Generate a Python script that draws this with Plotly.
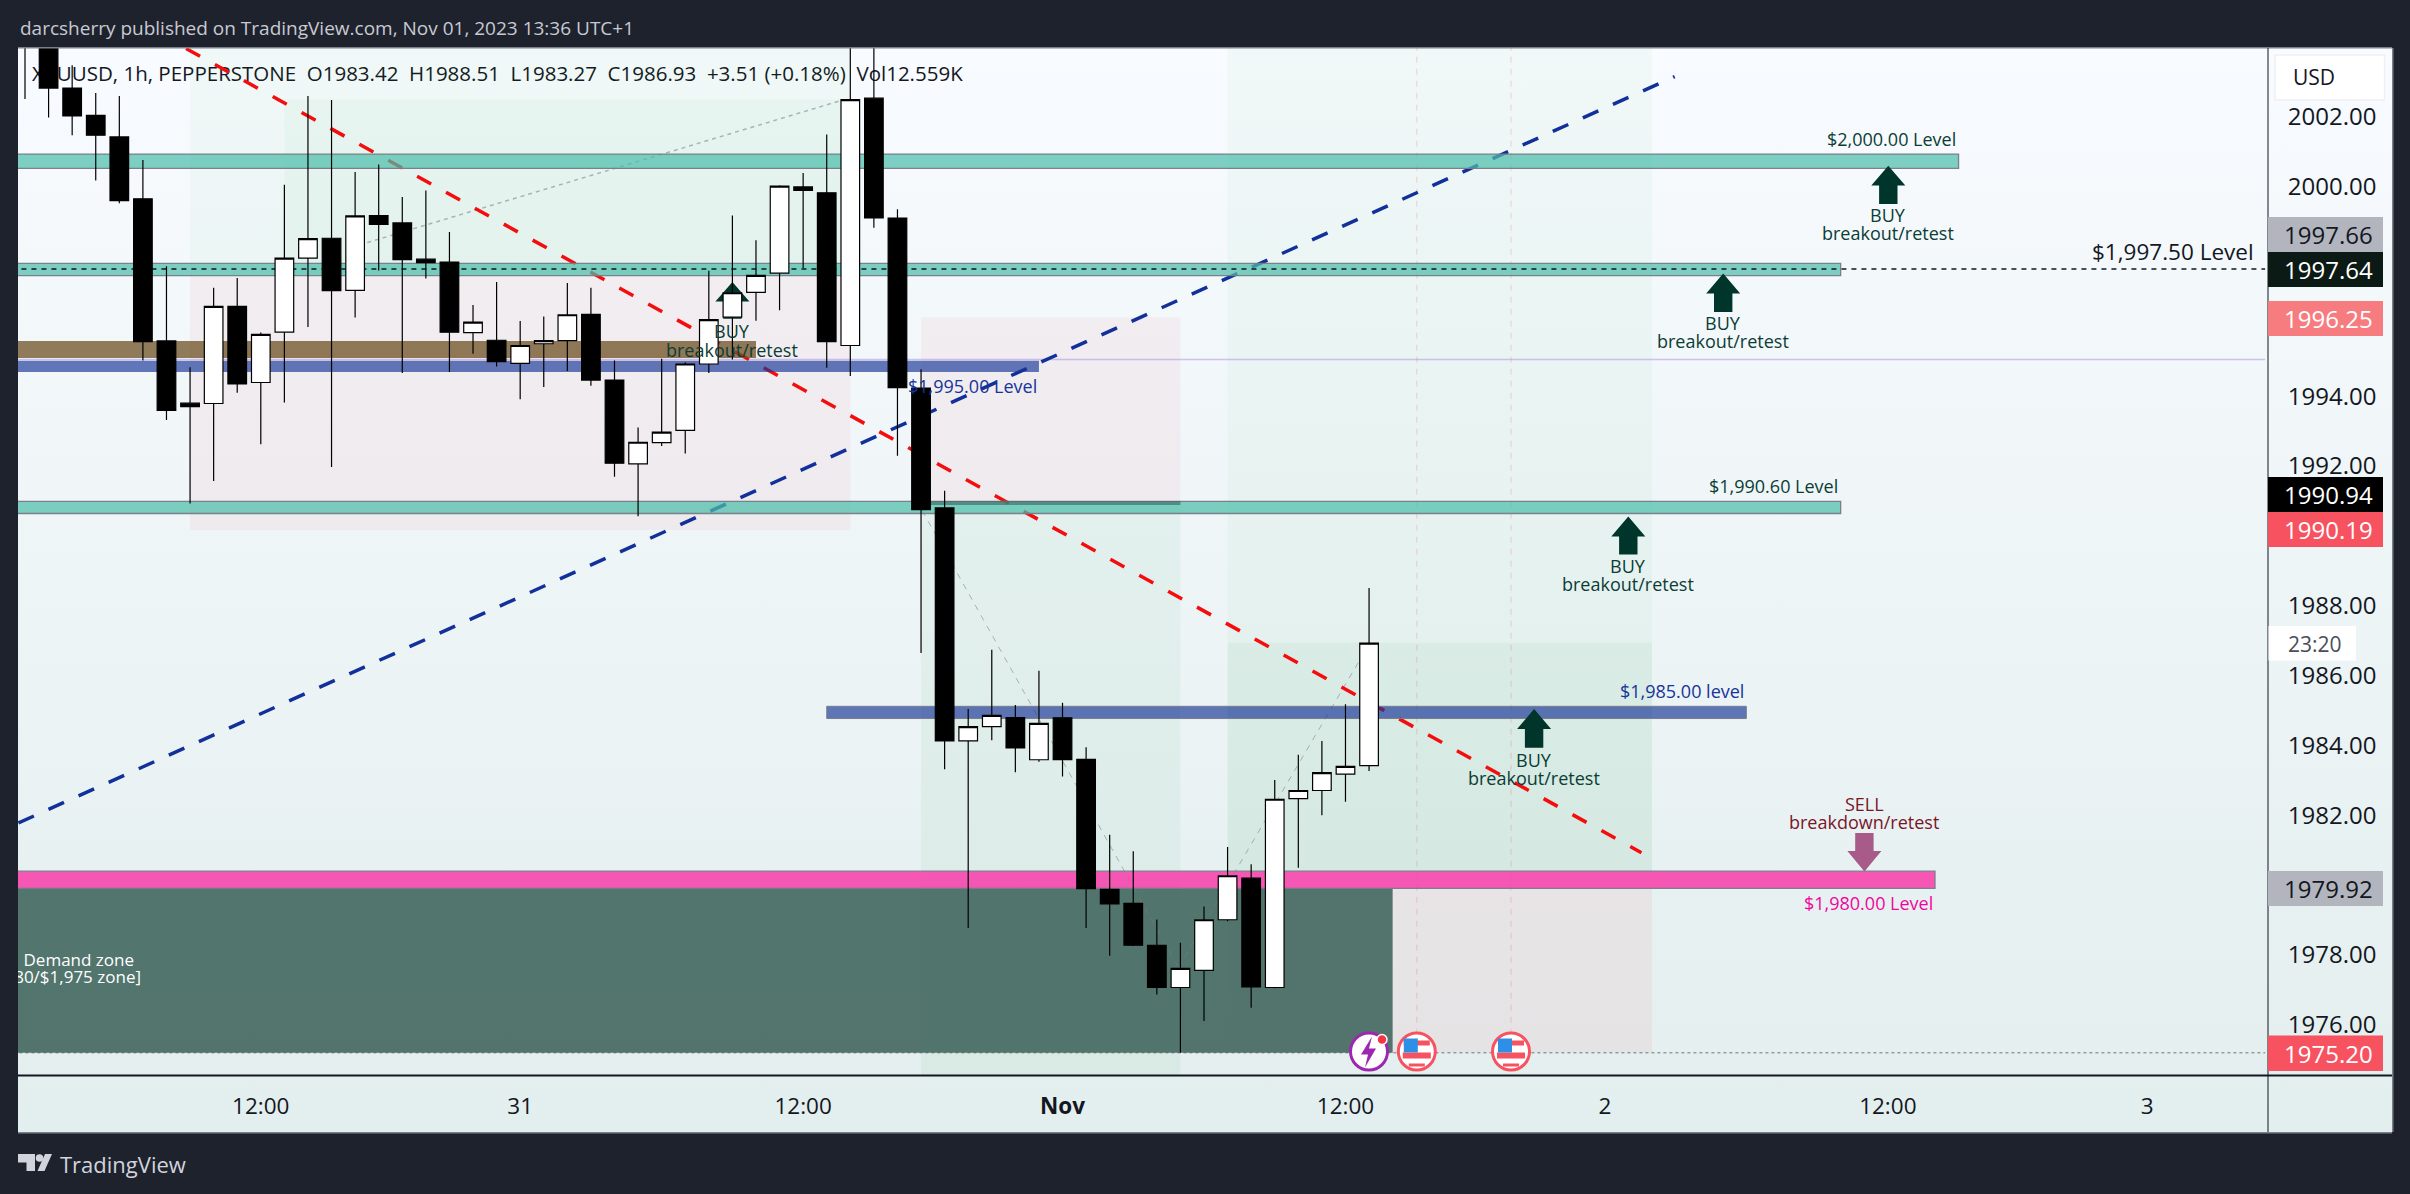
import plotly.graph_objects as go

# ---------- data ----------
opens = [2005.0,2004.4,2002.82,2002.04,2001.42,1999.65,1995.58,1993.80,1993.79,1996.57,1994.39,1995.83,1997.95,1998.52,1997.03,1999.17,1998.96,1997.92,1997.84,1995.82,
         1995.60,1994.94,1995.50,1995.59,1996.34,1994.46,1992.06,1992.67,1993.02,1994.92,1996.26,1996.97,1997.52,1999.99,1999.82,1995.45,2002.53,1999.10,1994.23,1990.80,
         1984.13,1984.54,1984.80,1983.59,1984.79,1983.60,1979.88,1979.48,1978.28,1977.07,1977.56,1979.01,1980.20,1977.07,1982.48,1982.71,1983.18,1983.42]
highs = [2005.5,2004.8,2003.47,2002.68,2002.59,2000.76,1997.72,1994.83,1997.10,1997.38,1995.82,2000.05,2002.59,2002.48,2000.42,2000.63,1999.70,1999.89,1998.70,1996.61,
         1997.27,1996.15,1996.28,1997.24,1997.10,1995.02,1993.10,1995.07,1994.97,1997.59,1999.17,1998.46,2000.04,2000.39,2001.49,2004.1,2004.2,1999.35,1994.77,1991.29,
         1985.04,1986.74,1985.16,1986.14,1985.22,1983.95,1981.44,1980.97,1979.02,1978.35,1979.39,1981.09,1980.60,1983.01,1983.73,1984.13,1985.18,1988.51]
lows = [2002.51,2001.98,2001.47,2000.17,1999.52,1995.02,1993.32,1990.93,1991.57,1994.10,1992.62,1993.82,1995.98,1991.97,1996.25,1997.60,1994.66,1997.37,1994.69,1995.21,
        1994.85,1993.91,1994.26,1994.72,1994.30,1991.69,1990.56,1992.57,1992.36,1994.66,1995.05,1996.16,1996.46,1997.67,1994.81,1994.58,1998.82,1992.29,1986.65,1983.32,
        1978.77,1984.15,1983.23,1983.53,1983.11,1978.77,1977.98,1978.26,1976.87,1975.20,1976.11,1978.97,1976.49,1977.05,1980.50,1982.00,1982.39,1983.27]
closes = [2004.2,2002.82,2002.02,2001.47,1999.60,1995.56,1993.59,1993.70,1996.57,1994.35,1995.77,1997.95,1998.51,1997.02,1999.16,1998.92,1997.91,1997.82,1995.83,1996.12,
          1994.99,1995.45,1995.59,1996.33,1994.46,1992.08,1992.68,1992.97,1994.92,1996.19,1996.96,1997.46,2000.01,1999.89,1995.56,2002.49,1999.10,1994.24,1990.75,1984.13,
          1984.54,1984.86,1983.93,1984.63,1983.59,1979.90,1979.46,1978.28,1977.07,1977.62,1979.01,1980.27,1977.09,1982.46,1982.71,1983.22,1983.40,1986.93]
bars = list(range(len(opens)))
price_ticks = [1976, 1978, 1982, 1984, 1986, 1988, 1992, 1994, 2000, 2002]
time_tick_bars = [10, 21, 33, 44, 56, 67, 79, 90]
time_tick_labels = ["12:00", "31", "12:00", "<b>Nov</b>", "12:00", "2", "12:00", "3"]
TITLE = "darcsherry published on TradingView.com, Nov 01, 2023 13:36 UTC+1"
OHLC = "XAUUSD, 1h, PEPPERSTONE\u00a0\u00a0O1983.42\u00a0\u00a0H1988.51\u00a0\u00a0L1983.27\u00a0\u00a0C1986.93\u00a0\u00a0+3.51 (+0.18%)\u00a0\u00a0Vol12.559K"

# ---------- geometry ----------
W, H = 2410, 1194
PL, PR, PT, PB = 18, 2268, 48, 1075.5    # plot area in pixels
FR, FB = 2392, 1132                      # panel outer
X0, DX = 25.0, 23.58
def bx(px): return (px - X0) / DX
def pr(py): return 2002 - (py - 116.7) / 34.93
def PX(x): return x / W
def PY(y): return 1 - y / H
FONT = "Open Sans"

shapes, ann = [], []
def rect(i0, i1, p0, p1, color, line=None, lw=1):
    shapes.append(dict(type="rect", xref="x2", yref="y2", x0=i0, x1=i1, y0=p0, y1=p1, fillcolor=color,
                       line=dict(color=line or "rgba(0,0,0,0)", width=lw if line else 0), layer="below"))
def seg(i0, p0, i1, p1, color, width, dash="solid"):
    shapes.append(dict(type="line", xref="x2", yref="y2", x0=i0, x1=i1, y0=p0, y1=p1,
                       line=dict(color=color, width=width, dash=dash), layer="below"))
def ptext(x, y, text, color, size, anchor="center", family=None):
    ann.append(dict(xref="paper", yref="paper", x=PX(x), y=PY(y), text=text, showarrow=False,
                    xanchor=anchor, yanchor="middle", font=dict(color=color, size=size, family=family or FONT)))
def ppath(points, color, layer="above"):
    d = "M" + " L".join(f"{PX(a):.5f},{PY(b):.5f}" for a, b in points) + " Z"
    shapes.append(dict(type="path", xref="paper", yref="paper", path=d, fillcolor=color,
                       line=dict(color="rgba(0,0,0,0)", width=0), layer=layer))
def pbox(x0, y0, x1, y1, color, layer="above"):
    shapes.append(dict(type="rect", xref="paper", yref="paper", x0=PX(x0), x1=PX(x1), y0=PY(y0), y1=PY(y1),
                       fillcolor=color, line=dict(width=0), layer=layer))
def arrow(cx, tip, base, end, color):
    pts = [(cx, tip), (cx + 17, base), (cx + 9.2, base), (cx + 9.2, end), (cx - 9.2, end), (cx - 9.2, base), (cx - 17, base)]
    d = "M" + " L".join(f"{bx(a):.4f},{pr(b):.4f}" for a, b in pts) + " Z"
    shapes.append(dict(type="path", xref="x2", yref="y2", path=d, fillcolor=color, line=dict(width=0), layer="below"))

GREEN_PALE = "rgba(40,160,70,0.035)"
GREEN = "rgba(40,160,70,0.055)"
PINK = "rgba(242,54,69,0.055)"

# position tools
rect(7, 35, 1997.45, 2006, GREEN_PALE)
rect(11, 35, 1997.45, 2002.49, GREEN_PALE)
rect(7, 35, 1990.17, 1997.45, PINK)
rect(38, 49, 1990.94, 1996.25, PINK)
rect(38, 49, 1974, 1990.94, GREEN)
rect(51, 69, 1980.40, 2006, GREEN_PALE)
rect(51, 69, 1980.40, 1986.94, GREEN)
rect(51, 69, 1975.2, 1979.91, "rgba(242,54,69,0.065)")
# demand zone
rect(-1, 58, 1975.2, 1979.92, "rgba(72,108,100,0.94)")
# thin lines
seg(-1, 1995.05, 95, 1995.05, "rgba(170,140,225,0.5)", 1.5)
seg(-1, 1975.2, 95, 1975.2, "rgba(80,90,90,0.8)", 1, "dot")
for vx in [1416.8, 1511]:
    seg(bx(vx), 1974, bx(vx), 2005, "rgba(242,54,69,0.22)", 1, "6px,6px")
DOT = "rgba(120,123,134,0.55)"
seg(14.19, 1998.33, 34.64, 2002.47, DOT, 1.5, "4px,4px")
seg(38.05, 1990.72, 48.92, 1977.64, DOT, 1, "6px,6px")
seg(48.92, 1977.64, 56.54, 1986.37, DOT, 1, "6px,6px")
# dashed trend lines (extend below the bands)
seg(6.83, 2003.95, 68.55, 1980.93, "#f50d0d", 3.5, "16px,17px")
seg(-0.28, 1981.78, 69.96, 2003.15, "#12309a", 3.5, "17px,16px")
# level bands
TEAL = "rgba(76,190,170,0.72)"
BLUE = "rgba(22,52,150,0.66)"
BORDER = "rgba(120,123,134,0.95)"
rect(-1, 82, 2000.52, 2000.93, TEAL, BORDER, 1.3)
rect(-1, 77, 1997.45, 1997.80, TEAL, BORDER, 1.3)
rect(-1, 77, 1990.64, 1990.99, TEAL, BORDER, 1.3)
rect(-1, 31, 1995.09, 1995.58, "rgba(110,80,35,0.75)")
rect(-1, 43, 1994.69, 1995.01, BLUE)
rect(38.42, 49, 1990.88, 1990.99, "rgba(50,90,85,0.55)")
rect(34, 73, 1984.77, 1985.12, BLUE, BORDER, 1)
rect(-1, 81, 1979.91, 1980.40, "rgba(248,60,170,0.86)", BORDER, 1.3)
seg(-1, 1997.64, 95, 1997.64, "#131722", 1.5, "5px,5px")
# arrows
DG = "#00352b"
arrow(1888.3, 165.7, 185.6, 204, DG)
arrow(1723.2, 273.6, 293.5, 311.9, DG)
arrow(1628.3, 516.6, 536.6, 554.5, DG)
arrow(1534.1, 709.1, 729, 747.7, DG)
arrow(732.4, 282, 301.6, 318.8, DG)
sx = 1864.4
shapes.append(dict(type="path", xref="x2", yref="y2",
    path="M" + " L".join(f"{bx(a):.4f},{pr(b):.4f}" for a, b in
        [(sx, 871.6), (sx + 17, 851.1), (sx + 9.2, 851.1), (sx + 9.2, 833), (sx - 9.2, 833), (sx - 9.2, 851.1), (sx - 17, 851.1)]) + " Z",
    fillcolor="#a85a88", line=dict(width=0), layer="below"))

# level labels
LS = 18
LG = "#0b3d35"
ptext(1957.8, 138.5, "$2,000.00 Level", LG, LS, "right")
ptext(1840.5, 486, "$1,990.60 Level", LG, LS, "right")
ptext(2255.6, 251.4, "$1,997.50 Level", "#131722", 22.5, "right")
ptext(1746.3, 691, "$1,985.00 level", "#16349a", LS, "right")
ptext(1039, 385.8, "$1,995.00 Level", "#16349a", LS, "right")
ptext(1934.6, 902.6, "$1,980.00 Level", "#f005a0", LS, "right")
for cx, y1, y2 in [(1888.3, 214.7, 233), (1723.2, 322.6, 341.4), (1628.3, 565.6, 584.4), (1534.1, 759.8, 778), (732.4, 331.4, 350)]:
    ptext(cx, y1, "BUY", LG, LS)
    ptext(cx, y2, "breakout/retest", LG, LS)
ptext(sx, 803.8, "SELL", "#7a1528", LS)
ptext(sx, 822, "breakdown/retest", "#7a1528", LS)

# frame and title
FRAME = "#7d808a"
pbox(PL, PT - 1, FR, PT + 0.5, FRAME)
pbox(PL, FB, FR, FB + 1.5, FRAME)
pbox(FR, PT, FR + 1.5, FB, FRAME)
pbox(PL, PB - 1, FR, PB + 1, "#131722")
pbox(PR - 0.5, PT, PR + 0.5, FB, "#131722")
ptext(18, 28, TITLE, "#c8cad2", 19, "left")

# right axis tags
TR = 2383
def tag(y0, y1, color, text, tc):
    pbox(PR, y0, TR, y1, color)
    ptext(2328.5, (y0 + y1) / 2, text, tc, 24)
tag(217, 252, "#b2b5be", "1997.66", "#131722")
tag(252, 287, "#0b1a14", "1997.64", "#ffffff")
tag(301, 336, "#f77c80", "1996.25", "#ffffff")
tag(477, 512, "#000000", "1990.94", "#ffffff")
tag(512, 547, "#f7525f", "1990.19", "#ffffff")
tag(871, 906, "#b2b5be", "1979.92", "#131722")
tag(1035.5, 1071, "#f7525f", "1975.20", "#ffffff")
pbox(PR + 0.5, 626, 2356, 660.5, "#ffffff")
ptext(2315, 643.5, "23:20", "#4a4e5a", 21)
shapes.append(dict(type="rect", xref="paper", yref="paper", x0=PX(2275), x1=PX(2384.5), y0=PY(55), y1=PY(100),
                   fillcolor="#ffffff", line=dict(color="#eef0f3", width=1.5), layer="above"))
ptext(2291, 77, "USD", "#131722", 21, "left")

# events
ECY = 1051.5
def circle(cx, cy, r, fill, line, lw):
    shapes.append(dict(type="circle", xref="paper", yref="paper", x0=PX(cx - r), x1=PX(cx + r), y0=PY(cy - r), y1=PY(cy + r),
                       fillcolor=fill, line=dict(color=line, width=lw), layer="above"))
for cx in [1416.8, 1511]:
    circle(cx, ECY, 18.5, "#ffffff", "#f7525f", 3)
    pbox(cx - 13, ECY - 11, cx + 13, ECY - 6, "#f7525f")
    pbox(cx - 14, ECY + 1, cx + 14, ECY + 7, "#f7525f")
    pbox(cx - 8, ECY + 12, cx + 8, ECY + 15, "#f7525f")
    pbox(cx - 13, ECY - 13, cx + 1, ECY + 1, "#2d8fe6")
circle(1369, ECY, 18.5, "#ffffff", "#9c27b0", 3)
ppath([(1372, ECY - 15), (1361, ECY + 3), (1368, ECY + 3), (1365, ECY + 16), (1376, ECY - 3), (1369, ECY - 3)], "#9c27b0")
circle(1382, ECY - 12, 5, "#f23645", "#ffffff", 1.5)

# logo
LOGO = "#d1d4dc"
ppath([(18, 1154), (35, 1154), (35, 1171), (26.5, 1171), (26.5, 1162.5), (18, 1162.5)], LOGO, "above")
circle(39.5, 1158, 3.8, LOGO, LOGO, 0)
ppath([(45, 1154), (52, 1154), (44.5, 1171), (37.5, 1171)], LOGO)
ptext(58, 1164.4, "TradingView", LOGO, 22, "left")

fig = go.Figure()
# backdrop on a pixel-valued panel axis
fig.add_trace(go.Scatter(x=[PL, FR, FR, PL, PL], y=[PT, PT, FB, FB, PT], mode="lines", fill="toself", line=dict(width=0),
                         fillgradient=dict(type="vertical", colorscale=[[0, "#e3eeee"], [1, "#f8fbff"]]),
                         hoverinfo="skip", showlegend=False, xaxis="x", yaxis="y"))
fig.add_trace(go.Scatter(x=[32], y=[76], mode="text", text=[OHLC], textposition="middle right",
                         textfont=dict(color="#131722", size=20.5, family=FONT),
                         hoverinfo="skip", showlegend=False, xaxis="x", yaxis="y"))
# market
fig.add_trace(go.Candlestick(x=bars, open=opens, high=highs, low=lows, close=closes, whiskerwidth=0,
                             increasing=dict(fillcolor="#ffffff", line=dict(color="#000000", width=1.2)),
                             decreasing=dict(fillcolor="#000000", line=dict(color="#000000", width=1.2)),
                             hoverinfo="skip", showlegend=False, xaxis="x2", yaxis="y2"))
fig.add_trace(go.Scatter(x=[bx(134), bx(141)], y=[pr(961.4), pr(979.2)], mode="text",
                         text=["Demand zone", "[$1,980/$1,975 zone]"], textposition="middle left", cliponaxis=True,
                         textfont=dict(color="#ffffff", size=17, family=FONT),
                         hoverinfo="skip", showlegend=False, xaxis="x2", yaxis="y2"))

fig.update_layout(
    width=W, height=H, margin=dict(l=0, r=0, t=0, b=0), autosize=False,
    paper_bgcolor="#1e222d", plot_bgcolor="rgba(0,0,0,0)", boxgap=0.21, boxgroupgap=0,
    shapes=shapes, annotations=ann, font=dict(family=FONT), showlegend=False,
    xaxis=dict(domain=[PX(PL), PX(FR)], range=[PL, FR], visible=False, fixedrange=True),
    yaxis=dict(domain=[PY(FB), PY(PT)], range=[FB, PT], visible=False, fixedrange=True),
    xaxis2=dict(domain=[PX(PL), PX(PR)], range=[bx(PL), bx(PR)], anchor="y2", rangeslider=dict(visible=False),
                showgrid=False, zeroline=False, showline=False, tickmode="array", tickvals=time_tick_bars, ticktext=time_tick_labels,
                ticks="outside", ticklen=10, tickcolor="rgba(0,0,0,0)", tickfont=dict(color="#131722", size=22.5, family=FONT), fixedrange=True),
    yaxis2=dict(domain=[PY(PB), PY(PT)], range=[pr(PB), pr(PT)], anchor="x2", side="right",
                showgrid=False, zeroline=False, showline=False, tickmode="array", tickvals=price_ticks, tickformat=".2f",
                ticks="outside", ticklen=14, tickcolor="rgba(0,0,0,0)", tickfont=dict(color="#131722", size=24, family=FONT), fixedrange=True),
)
fig.write_html("out.html", config=dict(displayModeBar=False),
               post_script="document.body.style.margin='0';document.documentElement.style.overflow='hidden';")
